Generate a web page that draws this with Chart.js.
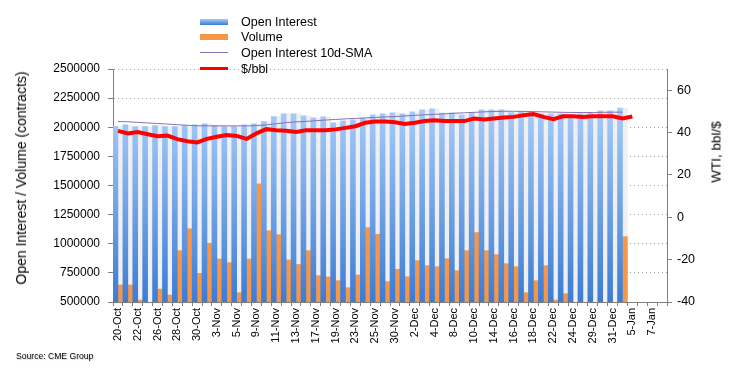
<!DOCTYPE html>
<html><head><meta charset="utf-8">
<script src="https://cdn.jsdelivr.net/npm/chart.js@4.4.0/dist/chart.umd.min.js"></script>
<style>
body{margin:0;background:#fff;}
#wrap{position:relative;width:740px;height:380px;font-family:"Liberation Sans",Arial,sans-serif;color:#000;overflow:hidden;}
canvas{position:absolute;left:0;top:0;}
.row{position:absolute;left:200px;height:16px;font-size:12.5px;line-height:16px;white-space:nowrap;}
.sw{position:absolute;left:0;width:28px;}
.tx{position:absolute;left:41px;top:0;}
.rot{position:absolute;white-space:nowrap;transform:translate(-50%,-50%) rotate(-90deg);}
#src{position:absolute;left:16px;top:351px;font-size:8.6px;text-shadow:1px 1px 1px rgba(0,0,0,0.2);}
</style></head><body>
<div id="wrap">
<canvas id="c" width="740" height="380"></canvas>
<div id="legend"></div>
<div class="rot" id="yt" style="left:21px;top:178px;font-size:14px;">Open Interest / Volume (contracts)</div>
<div class="rot" id="y2t" style="left:716px;top:152px;font-size:13.5px;">WTI, bbl/$</div>
<div id="src">Source: CME Group</div>
</div>
<script>
const categories = ["20-Oct","21-Oct","22-Oct","23-Oct","26-Oct","27-Oct","28-Oct","29-Oct","30-Oct",
"2-Nov","3-Nov","4-Nov","5-Nov","6-Nov","9-Nov","10-Nov","11-Nov","12-Nov","13-Nov","16-Nov","17-Nov","18-Nov","19-Nov","20-Nov","23-Nov","24-Nov","25-Nov","27-Nov","30-Nov",
"1-Dec","2-Dec","3-Dec","4-Dec","7-Dec","8-Dec","9-Dec","10-Dec","11-Dec","14-Dec","15-Dec","16-Dec","17-Dec","18-Dec","21-Dec","22-Dec","23-Dec","24-Dec","28-Dec","29-Dec","30-Dec","31-Dec",
"4-Jan","5-Jan","6-Jan","7-Jan","8-Jan"];

const openInterest = [2006000,2020000,2006000,2006000,2015000,2006000,2006000,2015000,2020000,2030000,
2015000,2006000,2006000,2020000,2030000,2049000,2092000,2115000,2115000,2098000,
2081000,2090000,2038000,2055000,2064000,2078000,2106000,2115000,2124000,2115000,
2132000,2149000,2158000,2121000,2124000,2106000,2124000,2149000,2149000,2149000,
2126000,2135000,2126000,2115000,2115000,2115000,2106000,2115000,2120000,2140000,
2140000,2164000];

const volume = [646000,646000,517000,490000,611000,560000,941000,1127000,746000,1004000,
869000,838000,580000,869000,1514000,1110000,1078000,861000,822000,941000,
726000,715000,683000,623000,732000,1138000,1082000,675000,781000,717000,
855000,812000,803000,872000,769000,941000,1095000,941000,906000,829000,
803000,580000,683000,812000,517000,571000,480000,470000,470000,470000,
470000,1061000];

const openInterestSMA = [2049000,2047000,2042000,2037000,2032000,2027000,2022000,2017000,2013000,2012000,
2012000,2012000,2012000,2012000,2014000,2020000,2030000,2040000,2046000,2050000,
2056000,2062000,2067000,2072000,2076000,2080000,2084000,2088000,2092000,2097000,
2102000,2107000,2111000,2115000,2120000,2124000,2128000,2132000,2135000,2137000,
2137000,2136000,2134000,2132000,2130000,2128000,2127000,2126000,2127000,2128000,
2129000,2130000];

const wtiPrice = [40.8,39.6,40.2,39.2,38.3,38.6,36.9,35.9,35.3,37.0,
38.0,38.8,38.4,37.0,39.6,41.6,41.1,40.8,40.3,41.1,
41.1,41.1,41.5,42.2,43.0,44.6,45.2,45.2,44.9,44.0,
44.6,45.4,45.8,45.4,45.4,45.4,46.6,46.2,46.6,47.1,
47.4,48.2,48.7,47.4,46.3,47.7,47.7,47.4,47.7,47.7,
47.7,46.6,47.6];

const seriesLabels = ["Open Interest","Volume","Open Interest 10d-SMA","$/bbl"];
const leftAxis = {min:500000, max:2500000, step:250000};
const rightAxis = {min:-40, max:70, step:20};

const shadow = openInterest.map((v,i)=> v - volume[i]);

Chart.defaults.font.family = '"Liberation Sans", Arial, sans-serif';
Chart.defaults.color = '#000';

function oiGradient(ctx){
  const chart = ctx.chart; const a = chart.chartArea;
  if(!a) return '#6fa3eb';
  const g = chart.ctx.createLinearGradient(0, a.top + 40, 0, a.bottom);
  g.addColorStop(0,'#a6cbf9');
  g.addColorStop(1,'#3b7cd5');
  return g;
}

const chart = new Chart(document.getElementById('c'), {
  data: {
    labels: categories,
    datasets: [
      {type:'bar', label:seriesLabels[0], data:openInterest, stack:'oi', yAxisID:'y',
       backgroundColor:oiGradient, categoryPercentage:1, barPercentage:1, order:3},
      {type:'bar', label:seriesLabels[1], data:volume, stack:'vol', yAxisID:'y',
       backgroundColor:'#f79646', categoryPercentage:1, barPercentage:1, order:3},
      {type:'bar', label:'_shadow', data:shadow, stack:'vol', yAxisID:'y',
       backgroundColor:'#efefef', categoryPercentage:1, barPercentage:1, order:3},
      {type:'line', label:seriesLabels[2], data:openInterestSMA, yAxisID:'y',
       borderColor:'#8a6fb3', borderWidth:1, pointRadius:0, tension:0, order:2},
      {type:'line', label:seriesLabels[3], data:wtiPrice, yAxisID:'y2',
       borderColor:'#ff0000', borderWidth:4, pointRadius:0, tension:0, order:1}
    ]
  },
  options: {
    responsive:false, animation:false, devicePixelRatio:1,
    layout:{padding:{top:69,left:0,right:0,bottom:0}},
    plugins:{legend:{display:false}, tooltip:{enabled:false}},
    scales:{
      x:{
        stacked:true,
        offset:true,
        grid:{display:true, drawOnChartArea:false, offset:true, tickLength:4, color:'#808080'},
        border:{display:true, color:'#808080'},
        ticks:{autoSkip:false, maxRotation:90, minRotation:90, padding:2, font:{size:11},
               callback:(v,i)=> i%2===0 ? categories[i] : ''},
        afterFit:s=>{s.height=78;}
      },
      y:{
        position:'left', stacked:true, z:1,
        min:leftAxis.min, max:leftAxis.max,
        grid:{color:'rgba(140,140,140,0.8)', tickLength:5, tickColor:'#808080', tickBorderDash:[]},
        border:{display:true, color:'#808080', dash:[1,3]},
        ticks:{stepSize:leftAxis.step, padding:8, font:{size:12}, callback:v=>String(v)},
        afterFit:s=>{s.width=113;}
      },
      y2:{
        position:'right', min:rightAxis.min, max:rightAxis.max,
        grid:{drawOnChartArea:false, tickLength:5, color:'#808080'},
        border:{display:true, color:'#808080'},
        ticks:{stepSize:rightAxis.step, padding:5, font:{size:12.5}},
        afterBuildTicks:s=>{s.ticks = s.ticks.filter(t=>t.value!==rightAxis.max);},
        afterFit:s=>{s.width=73;}
      }
    }
  }
});

// HTML legend built from datasets
const legendEl = document.getElementById('legend');
const rowsY = [21.5,36.5,52.5,68.5];
const swatch = [
  {h:6, bg:'linear-gradient(#a6cbf9,#3b7cd5)'},
  {h:6, bg:'#f79646'},
  {h:1, bg:'#8a6fb3'},
  {h:3.5, bg:'#ff0000'}
];
seriesLabels.forEach((lab,i)=>{
  const r = document.createElement('div');
  r.className='row';
  r.style.top = (rowsY[i]-8)+'px';
  const s = document.createElement('div');
  s.className='sw';
  s.style.height = swatch[i].h+'px';
  s.style.top = (8 - swatch[i].h/2)+'px';
  s.style.background = swatch[i].bg;
  const t = document.createElement('div');
  t.className='tx'; t.textContent = lab;
  r.appendChild(s); r.appendChild(t);
  legendEl.appendChild(r);
});
</script>
</body></html>
